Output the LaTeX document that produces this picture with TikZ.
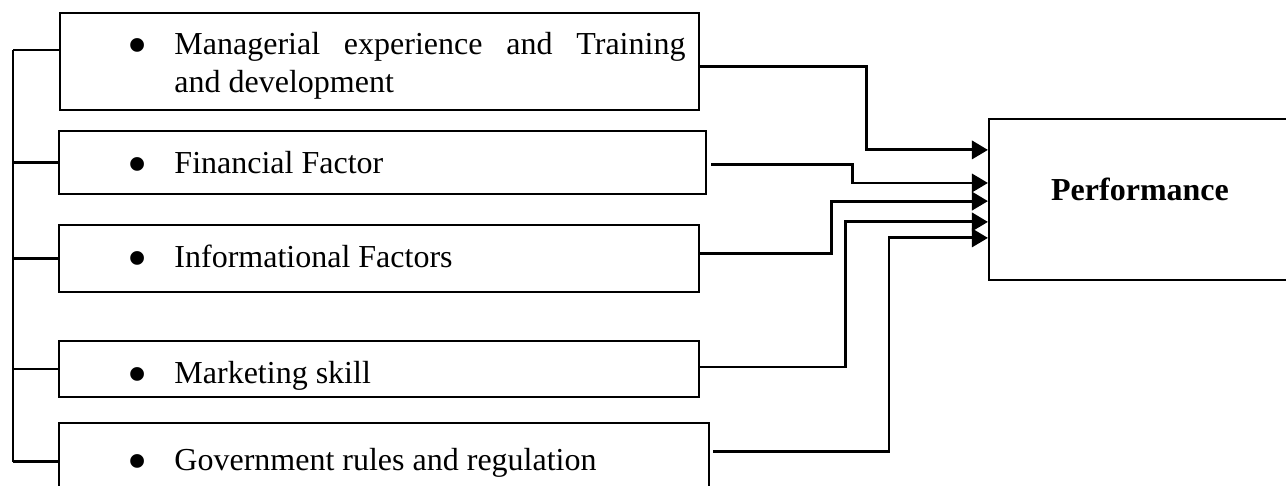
\documentclass[tikz,border=0pt]{standalone}
\usepackage{graphicx}
\usepackage{fontspec}
\setmainfont{Liberation Serif}
\usetikzlibrary{arrows.meta}

\newcommand{\bul}{\makebox[17.6pt][l]{\raisebox{-3.8pt}{\scalebox{1.8}{\textbullet}}}}

\begin{document}
\begin{tikzpicture}[x=0.375pt,y=-0.375pt,
    box/.style={draw,line width=0.8pt,inner sep=0pt},
    txt/.style={inner sep=0pt,anchor=base west,align=left,font=\fontsize{12pt}{14.25pt}\selectfont},
    bus/.style={line width=0.8pt},
    conn/.style={line width=1.1pt,-{Triangle[length=6pt,width=6.8pt]}}]
\useasboundingbox (0,0) rectangle (1286,485);
% factor boxes
\node[box,minimum width=239.6pt,minimum height=36.4pt] (b1) at (379.5,61.5) {};
\node[box,minimum width=242.6pt,minimum height=23.6pt] (b2) at (382.5,162.5) {};
\node[box,minimum width=240pt,minimum height=25.1pt] (b3) at (379,258.5) {};
\node[box,minimum width=240pt,minimum height=21pt] (b4) at (379,369) {};
\node[box,minimum width=243.75pt,minimum height=28.9pt] (b5) at (384,461.5) {};
\node[box,minimum width=116.6pt,minimum height=60.4pt] (perf) at (1144.5,199.5) {};

\node[txt] (t1) at (127,92) {\bul\makebox[191.6pt][s]{Managerial experience and Training}\\
    \hspace*{17.6pt}and development};
\node[txt] (t2) at (127,173) {\bul Financial Factor};
\node[txt] (t3) at (127,267) {\bul Informational Factors};
\node[txt] (t4) at (127,383) {\bul Marketing skill};
\node[txt] (t5) at (127,470) {\bul Government rules and regulation};
\node[txt,anchor=base] (pt) at (1140,200) {\bfseries Performance};

% left bracket
\coordinate (bt) at (13,50);
\coordinate (bb) at (b5.west -| bt);
\draw[bus] (bt) -- (bb);
\draw[bus] (bt) -- (bt -| b1.west);
\foreach \i in {2,...,5}
    \draw[bus] (b\i.west) -- (b\i.west -| bt);

% arrows to performance
\draw[conn] ([yshift=-1.7pt]b1.east) -- ++(166,0) |- ([yshift=18.6pt]perf.west);
\draw[conn] ([shift={(1.5pt,-0.6pt)}]b2.east) -- ++(141,0) |- ([yshift=6.2pt]perf.west);
\draw[conn] ([yshift=2pt]b3.east) -- ++(131,0) |- ([yshift=-0.6pt]perf.west);
\draw[conn] ([yshift=0.75pt]b4.east) -- ++(145,0) |- ([yshift=-8.4pt]perf.west);
\draw[conn] ([shift={(1.1pt,3.9pt)}]b5.east) -- ++(176,0) |- ([yshift=-14.4pt]perf.west);
\end{tikzpicture}
\end{document}
